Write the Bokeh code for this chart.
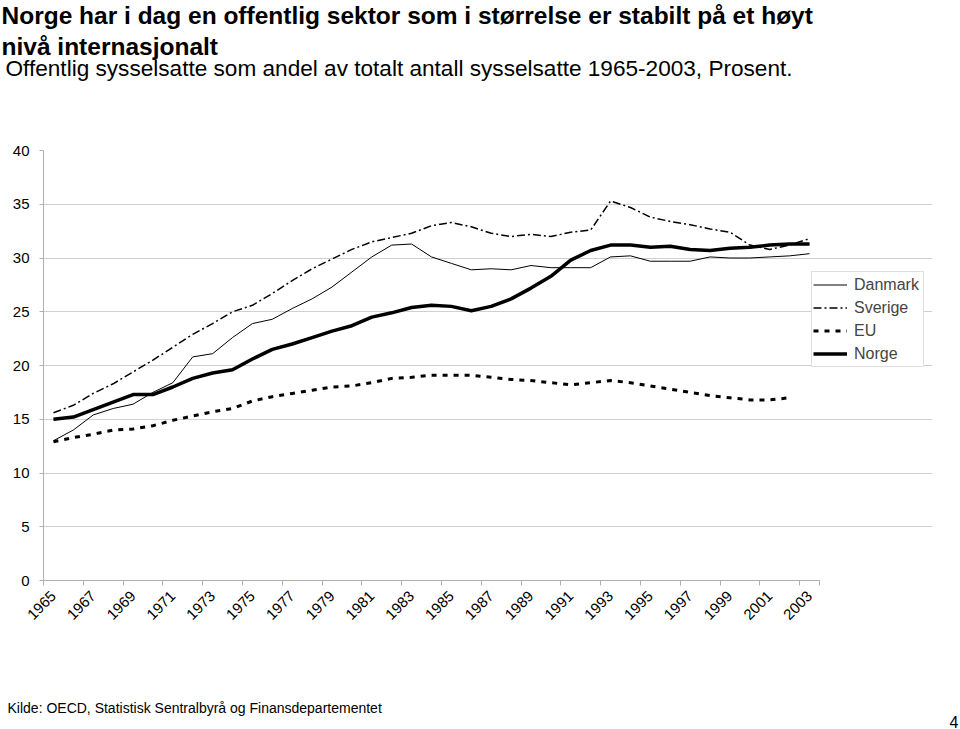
import math
from bokeh.plotting import figure
from bokeh.layouts import column
from bokeh.models import (Range1d, FixedTicker, Label, Legend, LegendItem)
from bokeh.embed import file_html
from bokeh.resources import INLINE

# ---------------- data ----------------
years = list(range(1965, 2004))
danmark = [13.0, 14.0, 15.4, 16.0, 16.4, 17.5, 18.4, 20.8, 21.1, 22.6,
           23.9, 24.3, 25.3, 26.2, 27.3, 28.7, 30.1, 31.2, 31.3, 30.1,
           29.5, 28.9, 29.0, 28.9, 29.3, 29.1, 29.1, 29.1, 30.1, 30.2,
           29.7, 29.7, 29.7, 30.1, 30.0, 30.0, 30.1, 30.2, 30.4]
sverige = [15.6, 16.3, 17.4, 18.3, 19.4, 20.5, 21.7, 22.9, 23.9, 25.0,
           25.6, 26.7, 27.9, 29.0, 29.9, 30.8, 31.5, 31.9, 32.3, 33.0,
           33.3, 32.9, 32.3, 32.0, 32.2, 32.0, 32.4, 32.6, 35.3, 34.7,
           33.8, 33.4, 33.1, 32.7, 32.4, 31.2, 30.8, 31.2, 31.8]
eu = [12.9, 13.3, 13.6, 14.0, 14.1, 14.4, 14.9, 15.3, 15.7, 16.0,
      16.7, 17.1, 17.4, 17.7, 18.0, 18.1, 18.4, 18.8, 18.9, 19.1,
      19.1, 19.1, 18.9, 18.7, 18.6, 18.4, 18.2, 18.4, 18.6, 18.4,
      18.1, 17.8, 17.5, 17.2, 17.0, 16.8, 16.8, 17.0, float("nan")]
norge = [15.0, 15.2, 15.9, 16.6, 17.3, 17.3, 18.0, 18.8, 19.3, 19.6,
         20.6, 21.5, 22.0, 22.6, 23.2, 23.7, 24.5, 24.9, 25.4, 25.6,
         25.5, 25.1, 25.5, 26.2, 27.2, 28.3, 29.8, 30.7, 31.2, 31.2,
         31.0, 31.1, 30.8, 30.7, 30.9, 31.0, 31.2, 31.3, 31.3]
series_names = ["Danmark", "Sverige", "EU", "Norge"]
label_years = list(range(1965, 2004, 2))
y_ticks = [0, 5, 10, 15, 20, 25, 30, 35, 40]

title1 = "Norge har  i dag en offentlig sektor som i størrelse er stabilt på et høyt"
title2 = "nivå internasjonalt"
subtitle = "Offentlig sysselsatte som andel av totalt antall sysselsatte 1965-2003, Prosent."
source = "Kilde: OECD, Statistisk Sentralbyrå og Finansdepartementet"
page_no = "4"

FONT = "Liberation Sans"
W, H = 960, 729
HEAD_H = 140          # header strip (canvas y 0..140)
MAIN_BOTTOM = 650     # main figure spans canvas y 140..650
FOOT_H = H - MAIN_BOTTOM
FL, FR_PLOT, FT, FB = 43, 819, 150, 580   # plot area on page
FR = 932              # frame right (room for legend)
x0, x1 = 1964.5, 2003.5
ppy = (FR_PLOT - FL) / (x1 - x0)


def no_align(f):
    try:
        f.frame_align = False
    except Exception:
        pass


def strip(height):
    f = figure(width=W, height=height, output_backend="svg",
               toolbar_location=None, x_range=Range1d(0, W),
               y_range=Range1d(0, height), x_axis_location=None,
               y_axis_location=None, min_border=0)
    f.outline_line_color = None
    f.grid.visible = False
    no_align(f)
    return f


def add_text(f, fh, text, x, base_y, size, bold=False, align="left"):
    f.add_layout(Label(x=x, y=fh - base_y, text=text, text_font=FONT,
                       text_font_size=size, text_align=align,
                       text_baseline="alphabetic", text_color="black",
                       text_font_style="bold" if bold else "normal"))


# ---- header ----
head = strip(HEAD_H)
add_text(head, HEAD_H, title1, 1, 15, "24.5px", bold=True)
add_text(head, HEAD_H, title2, 1, 46, "24.5px", bold=True)
add_text(head, HEAD_H, subtitle, 5, 68, "22.6px")

# ---- main chart ----
p = figure(width=W, height=MAIN_BOTTOM - HEAD_H, output_backend="svg",
           toolbar_location=None,
           x_range=Range1d(x0, x0 + (FR - FL) / ppy), y_range=Range1d(0, 40),
           min_border_left=FL, min_border_right=W - FR,
           min_border_top=FT - HEAD_H, min_border_bottom=MAIN_BOTTOM - FB)
p.outline_line_color = None
no_align(p)

p.xaxis.ticker = FixedTicker(ticks=label_years,
                             minor_ticks=[y - 0.5 for y in label_years] + [x1])
p.xaxis.bounds = (x0, x1)
p.xaxis.major_tick_out = 0
p.xaxis.major_tick_in = 0
p.xaxis.minor_tick_out = 5
p.xaxis.minor_tick_in = 0
p.xaxis.minor_tick_line_color = "#b0b0b0"
p.xaxis.major_label_orientation = math.pi / 4
p.xaxis.major_label_standoff = 8
p.yaxis.ticker = FixedTicker(ticks=y_ticks)
p.yaxis.major_tick_out = 4
p.yaxis.major_tick_in = 0
p.yaxis.minor_tick_line_color = None
p.yaxis.major_tick_line_color = "#b0b0b0"
p.yaxis.major_label_standoff = 10
for ax in (p.xaxis, p.yaxis):
    ax.axis_line_color = "#b0b0b0"
    ax.major_label_text_font = FONT
    ax.major_label_text_font_size = "15px"
    ax.major_label_text_color = "black"
p.xgrid.grid_line_color = None
p.ygrid.grid_line_color = "#d0d0d0"
p.ygrid.ticker = FixedTicker(ticks=y_ticks)
p.ygrid.bounds = (x0, x1)

r_dk = p.line(years, danmark, line_color="black", line_width=1)
r_se = p.line(years, sverige, line_color="black", line_width=1.5,
              line_dash="8 3 2 3")
r_eu = p.line(years, eu, line_color="black", line_width=3, line_dash="5 6")
r_no = p.line(years, norge, line_color="black", line_width=3.5)

legend = Legend(items=[LegendItem(label=n, renderers=[r])
                       for n, r in zip(series_names, [r_dk, r_se, r_eu, r_no])],
                location=(811 - FL, FB - 367), orientation="vertical",
                glyph_width=34, glyph_height=23, label_height=23,
                label_width=68, label_standoff=7, spacing=0, padding=1,
                margin=0, label_text_font=FONT, label_text_font_size="16px",
                border_line_color="#c0c0c0", border_line_width=1,
                background_fill_color="white", background_fill_alpha=1)
p.add_layout(legend)

# ---- footer ----
foot = strip(FOOT_H)
add_text(foot, FOOT_H, source, 7, 707 - MAIN_BOTTOM, "14px")
add_text(foot, FOOT_H, page_no, 958, 721 - MAIN_BOTTOM, "16px", align="right")

layout = column(head, p, foot, spacing=0)
html = file_html(layout, INLINE, title="Offentlig sysselsatte")
html = html.replace("<body>", '<body style="margin:0;overflow:hidden">', 1)
open("out.html", "w").write(html)
